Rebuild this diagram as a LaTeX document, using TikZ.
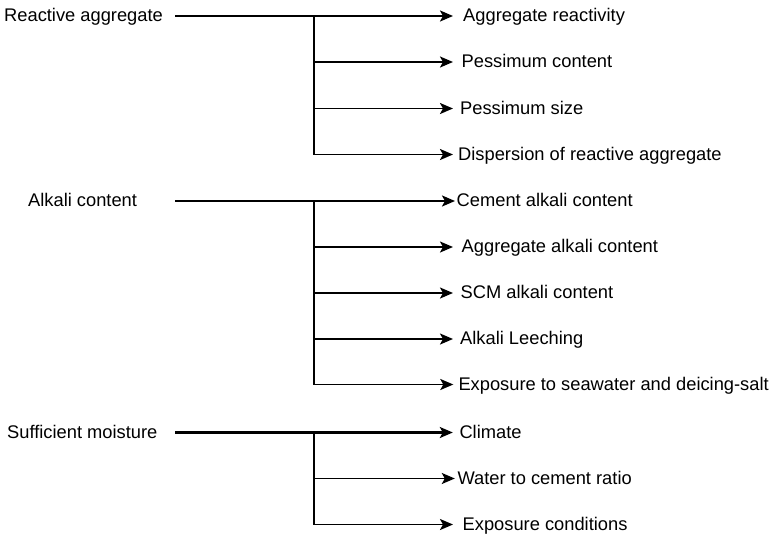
\documentclass[tikz,border=0pt]{standalone}
\usepackage{fontspec}
\setmainfont{Liberation Sans}
\usetikzlibrary{arrows.meta}
\begin{document}
\begin{tikzpicture}[x=1pt,y=-1pt,
  lbl/.style={anchor=west,inner sep=0pt,font=\fontsize{18.3}{20}\selectfont,text height=12pt,text depth=1pt},
  mainln/.style={line width=2.1pt},
  branch/.style={line width=1.9pt,-{Stealth[length=13pt,width=11pt,inset=3pt]}},
  spine/.style={line width=1.9pt}]
\useasboundingbox (0,0) rectangle (771,533);
% group 1
\node[lbl] (r) at (4,16) {Reactive aggregate};
\coordinate (rs) at (175,16);
\coordinate (rj) at (314,16);
\node[lbl] (r1) at (463,16) {Aggregate reactivity};
\node[lbl] (r2) at (461.5,62) {Pessimum content};
\node[lbl] (r3) at (460,108.5) {Pessimum size};
\node[lbl] (r4) at (458,154.5) {Dispersion of reactive aggregate};
\draw[branch,mainln] (rs) -- ([xshift=-10pt]r1.west);
\draw[spine] (rj) -- (rj |- r4.west);
\draw[branch] (rj |- r2.west) -- ([xshift=-8.5pt]r2.west);
\draw[branch] (rj |- r3.west) -- ([xshift=-7pt]r3.west);
\draw[branch] (rj |- r4.west) -- ([xshift=-5pt]r4.west);
% group 2
\node[lbl] (a) at (28,201) {Alkali content};
\coordinate (as) at (175,201);
\coordinate (aj) at (314,201);
\node[lbl] (a1) at (456.5,201) {Cement alkali content};
\node[lbl] (a2) at (461.5,247) {Aggregate alkali content};
\node[lbl] (a3) at (460.5,293) {SCM alkali content};
\node[lbl] (a4) at (460,339) {Alkali Leeching};
\node[lbl] (a5) at (458.3,384.5) {Exposure to seawater and deicing-salt};
\draw[branch,mainln] (as) -- ([xshift=-1.5pt]a1.west);
\draw[spine] (aj) -- (aj |- a5.west);
\draw[branch] (aj |- a2.west) -- ([xshift=-8.5pt]a2.west);
\draw[branch] (aj |- a3.west) -- ([xshift=-7.5pt]a3.west);
\draw[branch] (aj |- a4.west) -- ([xshift=-7pt]a4.west);
\draw[branch] (aj |- a5.west) -- ([xshift=-5pt]a5.west);
% group 3
\node[lbl] (m) at (7,432.5) {Sufficient moisture};
\coordinate (ms) at (175,432.5);
\coordinate (mj) at (314,432.5);
\node[lbl] (m1) at (459.3,432.5) {Climate};
\node[lbl] (m2) at (457.3,478.5) {Water to cement ratio};
\node[lbl] (m3) at (462.5,524.5) {Exposure conditions};
\draw[branch,mainln] (ms) -- ([xshift=-6.5pt]m1.west);
\draw[spine] (mj) -- (mj |- m3.west);
\draw[branch] (mj |- m2.west) -- ([xshift=-2.5pt]m2.west);
\draw[branch] (mj |- m3.west) -- ([xshift=-9.5pt]m3.west);
\end{tikzpicture}
\end{document}
